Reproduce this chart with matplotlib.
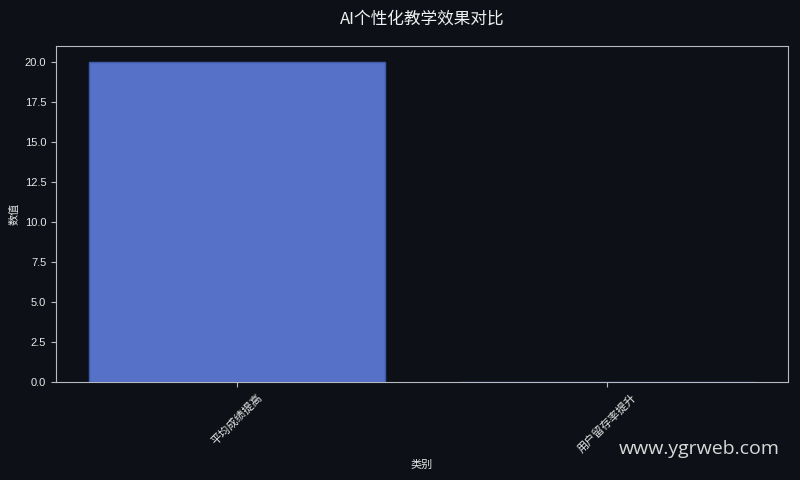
import matplotlib
matplotlib.use("Agg")
import matplotlib.pyplot as plt

plt.rcParams["font.family"] = ["Noto Sans CJK SC", "DejaVu Sans"]

categories = ["平均成绩提高", "用户留存率提升"]
values = [20, 0]

BG = "#0d1117"

fig = plt.figure(figsize=(8, 4.8), dpi=100, facecolor=BG)
ax = fig.add_axes([0.07, 0.204, 0.915, 0.700])
ax.set_facecolor(BG)

ax.bar(categories, values, width=0.8, color="#5571c8", edgecolor="#3f5aa8", linewidth=1)
ax.set_ylim(0, 21)

for side in ax.spines.values():
    side.set_color("#b8bcc2")
ax.tick_params(colors="#b8bcc2", labelcolor="#e6e6e6", labelsize=8)
for lbl in ax.get_yticklabels():
    lbl.set_family(["Liberation Sans", "DejaVu Sans"])
plt.setp(ax.get_xticklabels(), rotation=45, ha="center", fontsize=8)

ax.set_xlabel("类别", color="#e6e6e6", fontsize=8)
ax.set_ylabel("数值", color="#e6e6e6", fontsize=8)
fig.text(0.5275, 0.96, "AI个性化教学效果对比", color="#f0f0f0", fontsize=12,
         ha="center", va="center")

fig.text(0.975, 0.065, "www.ygrweb.com", color="#d8d8d8", fontsize=14,
         ha="right", va="center", family=["Open Sans", "DejaVu Sans"])

fig.savefig("out.png", dpi=100, facecolor=BG)
